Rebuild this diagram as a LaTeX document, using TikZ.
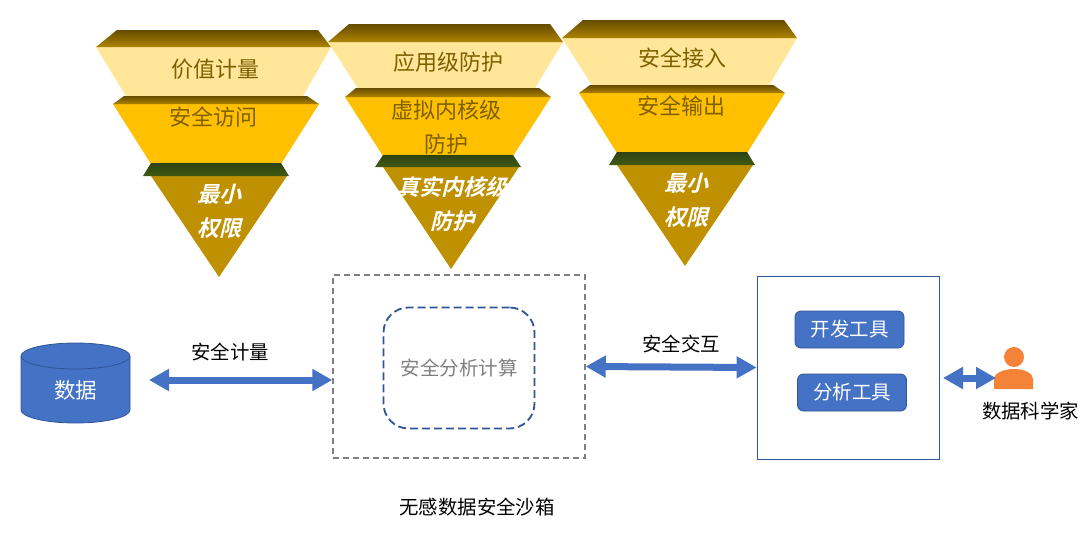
\documentclass[tikz,border=0pt]{standalone}
\usepackage{fontspec}
\setmainfont{Noto Sans CJK SC}
\newfontfamily\cjkslant[FakeSlant=.25]{Noto Sans CJK SC Bold}
\usetikzlibrary{arrows.meta}
\definecolor{blockblue}{HTML}{4472C4}
\definecolor{edgeblue}{HTML}{2F5597}
\definecolor{palegold}{HTML}{FFE699}
\definecolor{midgold}{HTML}{FFC000}
\definecolor{darkgold}{HTML}{BF9000}
\definecolor{labelgold}{HTML}{7F6000}
\definecolor{rimtop}{HTML}{654C00}
\definecolor{rimbottom}{HTML}{AD8300}
\definecolor{mosstop}{HTML}{2E4313}
\definecolor{mossbottom}{HTML}{415913}
\definecolor{midgrey}{HTML}{7F7F7F}
\definecolor{personorange}{HTML}{F58239}
\begin{document}
\begin{tikzpicture}[x=1pt,y=-1pt,line cap=butt,
  rim/.style={top color=rimtop,bottom color=rimbottom},
  greenrim/.style={top color=mosstop,bottom color=mossbottom},
  tier/.style={font=\fontsize{22}{34}\selectfont,text=labelgold,align=center,inner sep=0pt},
  tip/.style={font=\fontsize{22}{34}\selectfont\cjkslant,text=white,align=center,inner sep=0pt},
  plain/.style={font=\fontsize{19.4}{24}\selectfont,inner sep=0pt},
  toolbtn/.style={draw=edgeblue,fill=blockblue,rounded corners=6pt,text=white,line width=.8pt,
    font=\fontsize{19.5}{24}\selectfont,minimum height=37pt,minimum width=109pt,inner sep=0pt},
  duplex/.style={draw=blockblue,line width=7pt,{Triangle[length=20pt,width=21pt]}-{Triangle[length=20pt,width=21pt]}}]
\useasboundingbox (0,0) rectangle (1082,533);
\foreach \dx/\ya/\yb/\yc/\yd/\ye/\yf/\yg in
  {0/30/47/96/104/163/176/277,
   232/24/42/88/97/155/167/269,
   466/20/38/85/93/152/165/266}
{
  \begin{scope}[xshift=\dx pt]
    \fill[palegold] (96,\yb) -- (331,\yb) -- (302,\yc+2) -- (127,\yc+2) -- cycle;
    \shade[rim] (117,\ya) -- (318,\ya) -- (331,\yb) -- (96,\yb) -- cycle;
    \fill[midgold] (113,\yd) -- (319,\yd) -- (281,\ye+1) -- (151,\ye+1) -- cycle;
    \shade[rim] (124,\yc) -- (307,\yc) -- (319,\yd) -- (113,\yd) -- cycle;
    \fill[darkgold] (151,\yf) -- (287,\yf) -- (219,\yg) -- cycle;
    \shade[greenrim] (151,\ye) -- (281,\ye) -- (289,\yf) -- (143,\yf) -- cycle;
  \end{scope}
}
\node[tier] (value) at (215,69) {价值计量};
\node[tier] (access) at (213,117) {安全访问};
\node[tip] (least) at (219,211) {最小\\权限};
\node[tier] (appguard) at (448,62) {应用级防护};
\node[tier] (virtguard) at (446,127) {虚拟内核级\\防护};
\node[tip] (realguard) at (452,204) {真实内核级\\防护};
\node[tier] (entry) at (682,58) {安全接入};
\node[tier] (output) at (681,106) {安全输出};
\node[tip] (leastb) at (686,200) {最小\\权限};
\draw[draw=edgeblue,fill=blockblue,line width=.8pt] (21,356) -- (21,410)
  .. controls (21,417) and (45,423) .. (75.5,423)
  .. controls (106,423) and (130,417) .. (130,410) -- (130,356)
  .. controls (130,349) and (106,343) .. (75.5,343)
  .. controls (45,343) and (21,349) .. (21,356) -- cycle;
\draw[draw=edgeblue,line width=.8pt] (21,356)
  .. controls (21,363) and (45,369) .. (75.5,369)
  .. controls (106,369) and (130,363) .. (130,356);
\node[font=\fontsize{21.5}{26}\selectfont,text=white,inner sep=0pt] (data) at (75.5,390) {数据};
\node[draw=midgrey,line width=1.5pt,dash pattern=on 6pt off 4pt,minimum width=252pt,minimum height=183pt] (sandbox) at (459,366.5) {};
\node[draw=edgeblue,line width=1.8pt,dash pattern=on 8pt off 4pt,rounded corners=25pt,minimum width=151pt,minimum height=121pt,
  font=\fontsize{19.5}{24}\selectfont,text=midgrey] (compute) at (459,368) {安全分析计算};
\node[draw=edgeblue,line width=.8pt,minimum width=182pt,minimum height=183pt] (toolbox) at (848,367.5) {};
\node[toolbtn] (devtool) at (849.5,329.5) {开发工具};
\node[toolbtn] (analysis) at (852,392.5) {分析工具};
\node[circle,fill=personorange,minimum size=20pt,inner sep=0pt] (head) at (1014,357) {};
\fill[personorange] (994,389) -- (994,379) .. controls (994,373) and (1004,369) .. (1014,369)
  .. controls (1024,369) and (1033,373) .. (1033,379) -- (1033,389) -- cycle;
\node[plain] (scientist) at (1030.5,411) {数据科学家};
\node[plain] (metering) at (230,352) {安全计量};
\node[plain] (exchange) at (681,344) {安全交互};
\node[plain] (caption) at (477,507) {无感数据安全沙箱};
\coordinate (meterleft) at (149,380);
\coordinate (userleft) at (943,378);
\coordinate (userright) at (996,378);
\draw[duplex] (meterleft) -- (sandbox.west |- meterleft);
\draw[duplex] (sandbox.east) -- (toolbox.west);
\draw[duplex] (userleft) -- (userright);
\end{tikzpicture}
\end{document}
